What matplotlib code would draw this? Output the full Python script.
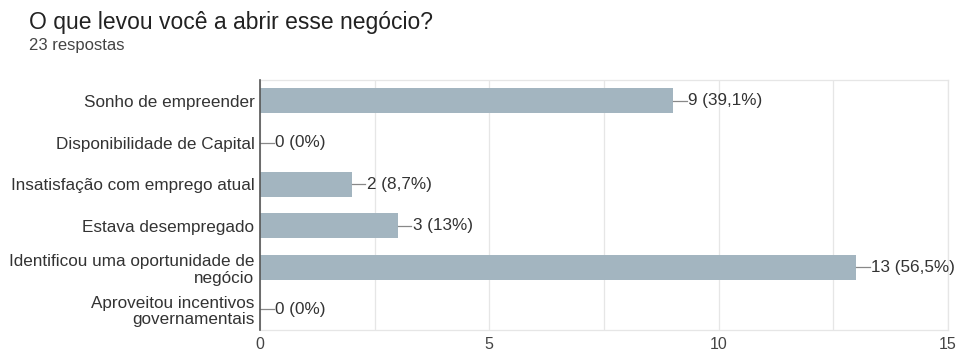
import numpy as np
import matplotlib.pyplot as plt

plt.rcParams['font.family'] = ['Liberation Sans', 'DejaVu Sans']

categorias = ["Sonho de empreender", "Disponibilidade de Capital",
              "Insatisfação com emprego atual", "Estava desempregado",
              "Identificou uma oportunidade de\nnegócio",
              "Aproveitou incentivos\ngovernamentais"]
respostas = [9, 0, 2, 3, 13, 0]
rotulos = ["9 (39,1%)", "0 (0%)", "2 (8,7%)", "3 (13%)", "13 (56,5%)", "0 (0%)"]
total = 23

fig = plt.figure(figsize=(9.6, 3.51), dpi=100)
ax = fig.add_axes([0.2708, 0.060, 0.7167, 0.712])

y = np.arange(len(categorias))
ax.barh(y, respostas, height=0.6, color="#a3b5c0", zorder=2)

# guia curta ate o rotulo de cada barra
for yi, v, txt in zip(y, respostas, rotulos):
    ax.plot([v, v + 0.3], [yi, yi], color="#888888", lw=0.9, zorder=3,
            clip_on=False)
    ax.text(v + 0.33, yi, txt, va="center", ha="left", fontsize=12.3,
            color="#333333")

ax.set_xlim(0, 15)
ax.set_ylim(len(categorias) - 0.5, -0.5)
ax.set_xticks([0, 5, 10, 15])
ax.set_xticks([2.5, 7.5, 12.5], minor=True)
ax.grid(axis="x", which="both", color="#e6e6e6", lw=0.9, zorder=0)
ax.set_yticks(y)
ax.set_yticklabels(categorias, fontsize=12.3, color="#333333",
                   linespacing=1.15)
ax.tick_params(axis="y", length=0, pad=4)
ax.tick_params(axis="x", which="both", length=0, labelsize=11.5,
               labelcolor="#444444", pad=5)

for lado in ["top", "right", "bottom"]:
    ax.spines[lado].set_color("#e6e6e6")
    ax.spines[lado].set_linewidth(0.9)
ax.spines["left"].set_color("#555555")
ax.spines["left"].set_linewidth(1.2)
ax.spines["left"].set_zorder(4)

fig.text(0.030, 0.937, "O que levou você a abrir esse negócio?",
         fontsize=16.5, color="#222222", va="center")
fig.text(0.030, 0.870, f"{total} respostas", fontsize=12,
         color="#444444", va="center")

plt.savefig("out.png", dpi=100)
